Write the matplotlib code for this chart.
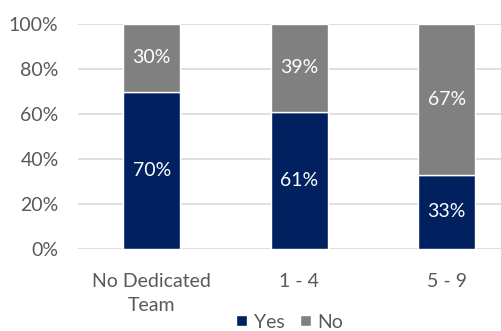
import matplotlib.pyplot as plt
from matplotlib.ticker import PercentFormatter

plt.rcParams['font.family'] = ['Lato', 'DejaVu Sans']

categories = ['No Dedicated\nTeam', '1 - 4', '5 - 9']
yes_pct = [70, 61, 33]
no_pct = [30, 39, 67]

NAVY = '#002060'
GREY = '#808080'
TEXT = '#595959'

fig = plt.figure(figsize=(5.02, 3.31), dpi=100)
ax = fig.add_axes([78 / 502, 82 / 331, 424 / 502, 225 / 331])

x = range(len(categories))
bars_yes = ax.bar(x, yes_pct, width=0.387, color=NAVY, edgecolor='white', linewidth=1, label='Yes', zorder=3)
bars_no = ax.bar(x, no_pct, bottom=yes_pct, width=0.387, color=GREY, edgecolor='white', linewidth=1, label='No', zorder=3)

for bars, vals, base in ((bars_yes, yes_pct, [0] * 3), (bars_no, no_pct, yes_pct)):
    for b, v, b0 in zip(bars, vals, base):
        ax.text(b.get_x() + b.get_width() / 2, b0 + v / 2, f'{v}%', ha='center', va='center',
                color='white', fontsize=14)

ax.set_ylim(0, 100)
ax.set_xlim(-0.5, 2.375)
ax.set_yticks(range(0, 101, 20))
ax.yaxis.set_major_formatter(PercentFormatter(decimals=0))
ax.set_xticks(list(x))
ax.set_xticklabels(categories, linespacing=1.5)
ax.tick_params(length=0, labelsize=14, colors=TEXT)
ax.tick_params(axis='x', pad=17)
ax.tick_params(axis='y', pad=14)
ax.grid(axis='y', color='#d9d9d9', linewidth=1.2, zorder=0)
for s in ax.spines.values():
    s.set_visible(False)

fig.legend(handles=[bars_yes, bars_no], labels=['Yes', 'No'], loc='center', bbox_to_anchor=(290 / 502, 9 / 331),
           ncol=2, frameon=False, fontsize=14, handlelength=0.55, handleheight=0.55, handletextpad=0.35,
           columnspacing=0.8, labelcolor=TEXT)

fig.savefig('out.png', dpi=100)
